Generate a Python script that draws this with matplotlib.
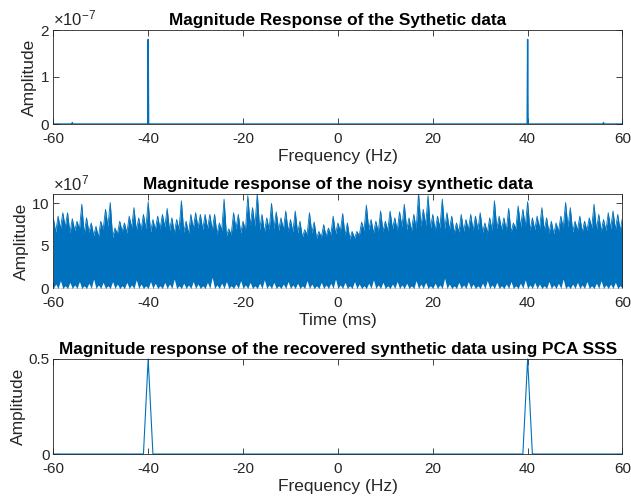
import numpy as np
import matplotlib
matplotlib.use("Agg")
import matplotlib.pyplot as plt
from matplotlib.ticker import ScalarFormatter

plt.rcParams["font.family"] = ["Liberation Sans", "DejaVu Sans"]
plt.rcParams["axes.unicode_minus"] = False
plt.rcParams["mathtext.fontset"] = "custom"
plt.rcParams["mathtext.rm"] = "Liberation Sans"
plt.rcParams["mathtext.it"] = "Liberation Sans:italic"
plt.rcParams["mathtext.bf"] = "Liberation Sans:bold"

LINE = "#0072BD"
AXC = "#262626"
TICK_FS = 11
LABEL_FS = 12.5
TITLE_FS = 12.4

# --- Spectrum of the clean synthetic signal (sparse lines) ---
clean_freq_hz = np.round(np.arange(-60, 60.05, 0.1), 1)
clean_peak_hz = [-56, -40, 40, 56]
clean_peak_amp = [0.03e-7, 1.8e-7, 1.8e-7, 0.03e-7]

# --- Noisy synthetic data: upper envelope per 1 ms, valleys between, floor notches (x1e7) ---
noisy_t_ms = np.arange(-60, 61, 1)
noisy_peak = [
    8.3, 8.5, 8.9, 8.9, 8.2, 7.9, 9.9, 8.3, 7.7, 7.3, 7.9, 9.3, 10.1, 7.1, 7.9,
    7.7, 8.5, 9.5, 8.3, 8.7, 10.2, 8.1, 8.5, 8.7, 9.4, 8.3, 8.1, 10.3, 7.9, 8.7,
    8.9, 8.7, 8.7, 8.7, 8.7, 7.7, 10.5, 7.0, 8.9, 8.7, 7.9, 10.9, 9.5, 11.2, 8.7,
    8.3, 10.0, 9.0, 8.3, 9.1, 8.1, 9.1, 7.9, 6.9, 8.9, 7.8, 6.7, 7.5, 7.1, 8.5,
    7.7, 8.8, 7.7, 6.7, 6.7, 7.8, 9.8, 8.1, 7.9, 9.1, 7.9, 9.1, 8.3, 9.0, 9.9,
    8.3, 8.7, 11.2, 9.3, 10.9, 8.7, 8.5, 10.5, 8.9, 8.5, 7.7, 8.7, 8.1, 8.7,
    8.5, 8.9, 7.7, 8.3, 10.3, 8.5, 8.3, 9.4, 7.7, 9.7, 9.3, 10.2, 8.3, 8.5, 9.5,
    8.3, 7.9, 7.7, 8.5, 10.1, 9.5, 7.9, 8.5, 7.9, 8.3, 9.9, 8.7, 8.1, 8.9, 9.1,
    8.7, 8.3,
]
noisy_valley = [
    6.6, 7.0, 7.2, 6.5, 6.8, 6.9, 6.4, 6.6, 6.2, 6.0, 6.9, 7.3, 6.0, 6.4, 6.7,
    6.5, 7.1, 6.8, 6.9, 7.0, 6.6, 6.9, 7.0, 7.2, 6.8, 6.5, 6.9, 6.6, 6.4, 7.0,
    7.1, 6.9, 7.0, 6.8, 6.4, 6.8, 6.2, 6.3, 7.0, 6.5, 6.8, 7.4, 7.3, 6.9, 6.6,
    6.9, 7.0, 6.8, 6.9, 6.7, 6.6, 6.5, 6.0, 6.3, 6.5, 5.9, 6.0, 6.1, 6.3, 6.4,
    6.7, 6.2, 5.8, 5.9, 6.2, 6.8, 6.9, 6.5, 6.6, 6.7, 6.8, 7.0, 6.8, 7.2, 6.9,
    6.7, 7.0, 7.3, 7.4, 7.0, 6.8, 7.1, 7.0, 6.9, 6.5, 6.6, 6.7, 6.9, 6.8, 6.9,
    6.6, 6.5, 6.8, 7.0, 6.9, 6.8, 6.6, 7.0, 7.2, 7.3, 6.8, 6.9, 7.0, 6.8, 6.5,
    6.4, 6.7, 7.1, 7.2, 6.6, 6.8, 6.6, 6.8, 7.1, 6.9, 6.7, 6.8, 7.0, 6.9, 6.8,
]
noisy_floor = [
    0.5, 0.9, 0.3, 0.7, 0.4, 0.8, 0.3, 0.6, 1.1, 0.4, 0.7, 0.3, 0.8, 0.5, 0.3,
    0.7, 0.4, 1.0, 0.5, 0.3, 0.8, 0.6, 0.3, 0.7, 0.5, 1.1, 0.3, 0.6, 0.4, 0.8,
    0.5, 0.3, 0.7, 1.3, 0.4, 0.6, 0.8, 0.3, 0.5, 0.9, 0.4, 0.7, 0.3, 0.6, 1.0,
    0.4, 0.7, 0.3, 0.5, 0.8, 0.4, 0.6, 0.3, 0.9, 0.5, 0.3, 0.7, 0.4, 0.6, 1.1,
    0.4, 0.7, 0.3, 0.8, 0.5, 0.3, 0.6, 1.0, 0.4, 0.7, 0.3, 0.5, 0.8, 0.4, 0.6,
    0.3, 0.9, 0.5, 0.7, 0.3, 0.6, 0.4, 1.2, 0.5, 0.3, 0.7, 0.4, 0.8, 0.5, 0.3,
    0.6, 0.9, 0.4, 0.7, 0.3, 0.5, 0.8, 0.3, 0.6, 1.0, 0.4, 0.7, 0.5, 0.3, 0.8,
    0.4, 0.6, 1.1, 0.3, 0.5, 0.7, 0.4, 0.8, 0.3, 0.6, 0.9, 0.4, 0.5, 0.7, 0.3,
]
noisy_scale = 1e7

# --- Spectrum recovered with PCA SSS ---
rec_freq_hz = np.arange(-60, 61, 1)
rec_peak_hz = [-40, 40]
rec_peak_amp = [0.5, 0.5]


def style_axes(ax):
    for s in ax.spines.values():
        s.set_color(AXC)
        s.set_linewidth(0.6)
    ax.tick_params(direction="in", top=True, right=True, length=4,
                   width=0.6, color=AXC, labelcolor=AXC, labelsize=TICK_FS)
    ax.tick_params(axis="x", pad=5.5)
    ax.tick_params(axis="y", pad=2.5)
    ax.set_xlim(-60, 60)
    ax.set_xticks([-60, -40, -20, 0, 20, 40, 60])


def sci_axis(ax, power):
    fmt = ScalarFormatter(useMathText=True)
    fmt.set_powerlimits((power, power))
    ax.yaxis.set_major_formatter(fmt)
    ax.yaxis.get_offset_text().set_fontsize(12)
    ax.yaxis.get_offset_text().set_color(AXC)


def labels(ax, title, xlabel):
    ax.set_title(title, fontsize=TITLE_FS, fontweight="bold", pad=3.5)
    ax.set_xlabel(xlabel, fontsize=LABEL_FS, color=AXC, labelpad=2.5)
    ax.set_ylabel("Amplitude", fontsize=LABEL_FS, color=AXC, labelpad=2)


fig = plt.figure(figsize=(6.31, 5.0), dpi=100)
ax1 = fig.add_axes([0.0845, 0.752, 0.902, 0.188])
ax2 = fig.add_axes([0.0845, 0.4234, 0.902, 0.188])
ax3 = fig.add_axes([0.0845, 0.092, 0.902, 0.190])

# Panel 1: clean spectrum
clean_amp = np.zeros_like(clean_freq_hz)
for f, a in zip(clean_peak_hz, clean_peak_amp):
    clean_amp[np.argmin(np.abs(clean_freq_hz - f))] = a
ax1.plot(clean_freq_hz, clean_amp, color=LINE, lw=1.0)
style_axes(ax1)
ax1.set_ylim(0, 2e-7)
ax1.set_yticks([0, 1e-7, 2e-7])
sci_axis(ax1, -7)
labels(ax1, "Magnitude Response of the Sythetic data", "Frequency (Hz)")

# Panel 2: noisy data drawn as its per-column envelope
env_t = np.empty(2 * len(noisy_t_ms) - 1)
env_t[0::2] = noisy_t_ms
env_t[1::2] = noisy_t_ms[:-1] + 0.5
env_top = np.empty_like(env_t)
env_top[0::2] = noisy_peak
env_top[1::2] = noisy_valley
env_bot = np.zeros_like(env_t)
env_bot[1::2] = noisy_floor
ax2.fill_between(env_t, 0, env_top * noisy_scale, color=LINE, lw=0, zorder=2)
ax2.plot(env_t, env_top * noisy_scale, color=LINE, lw=0.6, zorder=2)
ax2.fill_between(env_t, 0, env_bot * noisy_scale, color="white", lw=0, zorder=3)
style_axes(ax2)
ax2.set_ylim(0, 1.107e8)
ax2.set_yticks([0, 5e7, 1e8])
sci_axis(ax2, 7)
labels(ax2, "Magnitude response of the noisy synthetic data", "Time (ms)")

# Panel 3: recovered spectrum
rec_amp = np.zeros(len(rec_freq_hz))
for f, a in zip(rec_peak_hz, rec_peak_amp):
    rec_amp[np.argmin(np.abs(rec_freq_hz - f))] = a
ax3.plot(rec_freq_hz, rec_amp, color=LINE, lw=0.8, clip_on=False)
style_axes(ax3)
ax3.set_ylim(0, 0.5)
ax3.set_yticks([0, 0.5])
ax3.set_yticklabels(["0", "0.5"])
labels(ax3, "Magnitude response of the recovered synthetic data using PCA SSS",
       "Frequency (Hz)")

fig.savefig("out.png", dpi=100)
